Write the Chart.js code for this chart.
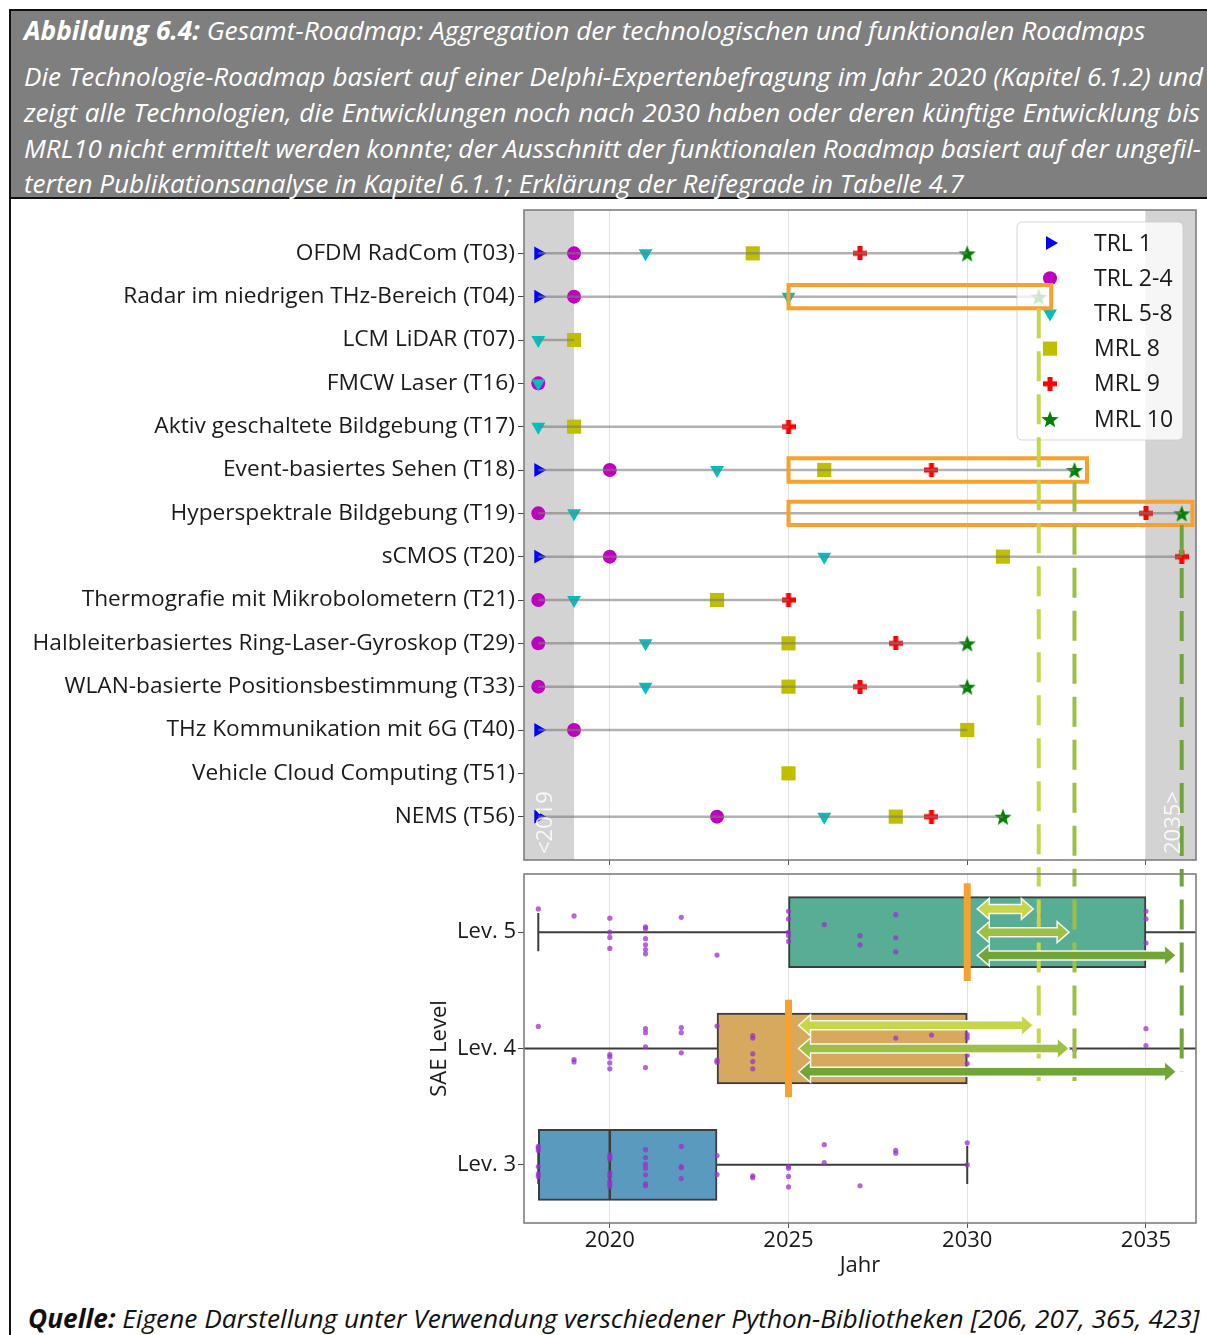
<!DOCTYPE html>
<html lang="de">
<head>
<meta charset="utf-8">
<title>Gesamt-Roadmap</title>
<script src="https://cdn.jsdelivr.net/npm/chart.js@4.4.1/dist/chart.umd.min.js"></script>
<style>
  html, body { margin: 0; padding: 0; background: #ffffff; }
  body { position: relative; width: 1207px; height: 1335px; overflow: hidden; font-family: 'Open Sans', 'Noto Sans', sans-serif; }
  #border { position: absolute; left: 9px; top: 9px; width: 1300px; height: 1400px; border-left: 2px solid #111; border-top: 2px solid #111; }
  #header { position: absolute; left: 11px; top: 11px; width: 1196px; height: 186px; background: #7f7f7f; border-bottom: 2px solid #111; color: #fff; }
  .line { position: absolute; left: 13px; white-space: nowrap; font-style: italic; font-size: 23px; line-height: 30px; }
  .line b, #footer b { font-weight: 700; }
  #footer { position: absolute; left: 28px; top: 1303px; white-space: nowrap; font-style: italic; font-size: 23px; line-height: 30px; color: #111; }
  canvas { position: absolute; }
</style>
</head>
<body>
<div id="border"></div>
<div id="header">
  <div class="line" id="h1" style="top:4px"><b>Abbildung 6.4:</b> Gesamt-Roadmap: Aggregation der technologischen und funktionalen Roadmaps</div>
  <div class="line" id="h2" style="top:50px">Die Technologie-Roadmap basiert auf einer Delphi-Expertenbefragung im Jahr 2020 (Kapitel 6.1.2) und</div>
  <div class="line" id="h3" style="top:86px">zeigt alle Technologien, die Entwicklungen noch nach 2030 haben oder deren künftige Entwicklung bis</div>
  <div class="line" id="h4" style="top:122px">MRL10 nicht ermittelt werden konnte; der Ausschnitt der funktionalen Roadmap basiert auf der ungefil-</div>
  <div class="line" id="h5" style="top:157px">terten Publikationsanalyse in Kapitel 6.1.1; Erklärung der Reifegrade in Tabelle 4.7</div>
</div>
<canvas id="roadmap" width="1195" height="670" style="left:12px;top:200px;width:1195px;height:670px"></canvas>
<canvas id="levels" width="787" height="420" style="left:420px;top:870px;width:787px;height:420px"></canvas>
<div id="footer"><b>Quelle:</b> Eigene Darstellung unter Verwendung verschiedener Python-Bibliotheken [206, 207, 365, 423]</div>

<script>
// ---- data -------------------------------------------------------------
const yearTicks = [2020, 2025, 2030, 2035];
const yearMin = 2017.6;
const yearMax = 2036.4;

const technologies = [
  'OFDM RadCom (T03)',
  'Radar im niedrigen THz-Bereich (T04)',
  'LCM LiDAR (T07)',
  'FMCW Laser (T16)',
  'Aktiv geschaltete Bildgebung (T17)',
  'Event-basiertes Sehen (T18)',
  'Hyperspektrale Bildgebung (T19)',
  'sCMOS (T20)',
  'Thermografie mit Mikrobolometern (T21)',
  'Halbleiterbasiertes Ring-Laser-Gyroskop (T29)',
  'WLAN-basierte Positionsbestimmung (T33)',
  'THz Kommunikation mit 6G (T40)',
  'Vehicle Cloud Computing (T51)',
  'NEMS (T56)'
];

// year reached per technology (2018 = "<2019", 2036 = "2035>")
const trl1  = [2018, 2018, null, null, null, 2018, null, 2018, null, null, null, 2018, null, 2018];
const trl24 = [2019, 2019, null, 2018, null, 2020, 2018, 2020, 2018, 2018, 2018, 2019, null, 2023];
const trl58 = [2021, 2025, 2018, 2018, 2018, 2023, 2019, 2026, 2019, 2021, 2021, null, null, 2026];
const mrl8  = [2024, null, 2019, null, 2019, 2026, null, 2031, 2023, 2025, 2025, 2030, 2025, 2028];
const mrl9  = [2027, null, null, null, 2025, 2029, 2035, 2036, 2025, 2028, 2027, null, null, 2029];
const mrl10 = [2030, 2032, null, null, null, 2033, 2036, null, null, 2030, 2030, null, null, 2031];
const seriesLabels = ['TRL 1', 'TRL 2-4', 'TRL 5-8', 'MRL 8', 'MRL 9', 'MRL 10'];

const shadeSpans = [[yearMin, 2019], [2035, yearMax]];
const shadeLabels = ['<2019', '2035>'];

// highlighted technologies (orange frames) and their target years
const highlightRows = [1, 5, 6];
const highlightFrom = [2025, 2025, 2025];
const highlightTo = [2032.35, 2033.35, 2036.3];
const targetYears = [2032, 2033, 2036];

// SAE levels: box plot of publication years
const levels = ['Lev. 5', 'Lev. 4', 'Lev. 3'];
const boxQ1 = [2025, 2023, 2018];
const boxQ3 = [2035, 2030, 2023];
const boxMedian = [2030, 2025, 2020];
const whiskerLow = [2018, 2017, 2018];
const whiskerHigh = [2037, 2037, 2030];
const highlightedLevels = [0, 1];
const dashEnd = [1.28, 1.28, 1.2];

const lev5Years = [2018, 2019, 2020, 2020, 2020, 2020, 2021, 2021, 2021, 2021, 2021, 2021, 2022, 2023,
  2025, 2025, 2025, 2025, 2025, 2026, 2027, 2027, 2028, 2028, 2028, 2032, 2035, 2035, 2035];
const lev5Jitter = [-0.2, -0.14, -0.12, 0, 0.045, 0.14, -0.045, -0.03, 0.056, 0.108, 0.15, 0.186, -0.128, 0.197,
  -0.18, -0.114, 0, 0.028, 0.08, -0.065, 0.03, 0.11, -0.15, 0.048, 0.17, -0.145, -0.18, -0.114, 0.093];
const lev4Years = [2018, 2019, 2019, 2020, 2020, 2020, 2020, 2021, 2021, 2021, 2021, 2022, 2022, 2022,
  2023, 2023, 2023, 2024, 2024, 2024, 2024, 2024, 2028, 2029, 2030, 2030, 2030, 2030, 2033, 2035, 2035];
const lev4Jitter = [-0.19, 0.095, 0.115, 0.052, 0.072, 0.124, 0.175, -0.17, -0.136, -0.015, 0.164, -0.18, -0.136, 0.037,
  -0.193, 0.1, 0.118, -0.11, -0.09, 0.046, 0.112, 0.175, -0.09, -0.115, -0.12, -0.09, 0.058, 0.13, 0.01, -0.17, -0.026];
const lev3Years = [2018, 2018, 2018, 2018, 2018, 2018, 2020, 2020, 2020, 2020, 2020, 2020, 2020, 2020,
  2021, 2021, 2021, 2021, 2021, 2021, 2021, 2022, 2022, 2022, 2022, 2023, 2023, 2024, 2024,
  2025, 2025, 2025, 2025, 2026, 2026, 2027, 2028, 2028, 2030, 2030];
const lev3Jitter = [-0.158, -0.144, -0.124, 0.015, 0.078, 0.1, -0.086, -0.066, -0.049, 0.072, 0.1, 0.144, 0.164, 0.188,
  -0.13, -0.063, -0.006, 0.029, 0.086, 0.164, 0.18, -0.158, 0.015, 0.026, 0.118, -0.08, 0.084, 0.095, 0.11,
  0.015, 0.029, 0.1, 0.19, -0.173, -0.02, 0.18, -0.124, -0.1, -0.19, 0];

// ---- styles ----------------------------------------------------------
const FONT = "'Open Sans', 'Noto Sans', sans-serif";
const TEXT = '#1a1a1a';
const ORANGE = '#f7a12e';
const TARGET_COLORS = ['#c6d64c', '#9dc044', '#72a438'];
const BOX_COLORS = ['#58ad95', '#d6a95f', '#5a9abf'];
const BOX_EDGE = '#3c3c3c';

Chart.defaults.font.family = FONT;
Chart.defaults.color = TEXT;

function markerCanvas(size, color, shape) {
  const c = document.createElement('canvas');
  c.width = size;
  c.height = size;
  const g = c.getContext('2d');
  g.fillStyle = color;
  if (shape === 'star') {
    const R = size / 2, r = R * 0.42;
    g.beginPath();
    for (let i = 0; i < 10; i++) {
      const a = -Math.PI / 2 + i * Math.PI / 5;
      const rr = i % 2 ? r : R;
      g.lineTo(R + rr * Math.cos(a), R + 1 + rr * Math.sin(a));
    }
    g.closePath();
    g.fill();
  } else {
    const t = Math.round(size * 0.36);
    g.fillRect((size - t) / 2, 0, t, size);
    g.fillRect(0, (size - t) / 2, size, t);
  }
  return c;
}

const markerDefs = [
  { data: trl1, color: '#0000ff', pointStyle: 'triangle', rotation: 90, radius: 8 },
  { data: trl24, color: '#bf00bf', pointStyle: 'circle', rotation: 0, radius: 7 },
  { data: trl58, color: '#00bfbf', pointStyle: 'triangle', rotation: 180, radius: 8 },
  { data: mrl8, color: '#bfbf00', pointStyle: 'rect', rotation: 0, radius: 10 },
  { data: mrl9, color: '#ff0000', pointStyle: markerCanvas(14, '#ff0000', 'plus'), rotation: 0, radius: 7 },
  { data: mrl10, color: '#008000', pointStyle: markerCanvas(18, '#008000', 'star'), rotation: 0, radius: 9 }
];

// axis boxes keep the exact size we give them (no extra label padding)
function fixSize(prop, value) {
  return (s) => {
    s[prop] = value;
    s.paddingTop = 0;
    s.paddingBottom = 0;
    s.paddingLeft = 0;
    s.paddingRight = 0;
  };
}

// ---- top chart: technology roadmap ------------------------------------
const roadmapSets = [];

markerDefs.forEach((m, k) => {
  roadmapSets.push({
    label: seriesLabels[k],
    data: m.data.map((v, i) => (v === null ? null : { x: v, y: i })).filter(Boolean),
    backgroundColor: m.color,
    borderColor: m.color,
    borderWidth: 0,
    pointStyle: m.pointStyle,
    rotation: m.rotation,
    pointRadius: m.radius,
    order: 20 - k
  });
});

technologies.forEach((name, i) => {
  const years = markerDefs.map((m) => m.data[i]).filter((v) => v !== null);
  if (years.length < 2) return;
  roadmapSets.push({
    showLine: true,
    data: [{ x: Math.min(...years), y: i }, { x: Math.max(...years), y: i }],
    borderColor: 'rgba(125,125,125,0.6)',
    borderWidth: 2.5,
    pointRadius: 0,
    order: 5
  });
});

highlightRows.forEach((row, k) => {
  const x0 = highlightFrom[k], x1 = highlightTo[k];
  roadmapSets.push({
    showLine: true,
    overlay: true,
    data: [
      { x: x0, y: row - 0.27 }, { x: x1, y: row - 0.27 },
      { x: x1, y: row + 0.27 }, { x: x0, y: row + 0.27 }, { x: x0, y: row - 0.27 }
    ],
    borderColor: ORANGE,
    borderWidth: 4,
    borderJoinStyle: 'miter',
    borderCapStyle: 'square',
    pointRadius: 0,
    clip: false,
    order: 1
  });
  roadmapSets.push({
    showLine: true,
    overlay: true,
    data: [{ x: targetYears[k], y: row + 0.27 }, { x: targetYears[k], y: 14.6 }],
    borderColor: TARGET_COLORS[k],
    borderWidth: 4,
    borderDash: [30, 13],
    pointRadius: 0,
    clip: false,
    order: 0
  });
});

function drawLegend(chart) {
  const { ctx, chartArea: a } = chart;
  const w = 166, h = 218;
  const left = a.right - 13 - w, top = a.top + 12;
  ctx.save();
  ctx.beginPath();
  if (ctx.roundRect) ctx.roundRect(left, top, w, h, 5); else ctx.rect(left, top, w, h);
  ctx.fillStyle = 'rgba(255,255,255,0.8)';
  ctx.fill();
  ctx.strokeStyle = 'rgba(204,204,204,0.8)';
  ctx.lineWidth = 1;
  ctx.stroke();
  ctx.font = `23px ${FONT}`;
  ctx.textBaseline = 'middle';
  markerDefs.forEach((m, i) => {
    const y = top + 21 + i * 35.2;
    ctx.fillStyle = m.color;
    ctx.strokeStyle = m.color;
    Chart.helpers.drawPoint(ctx, { pointStyle: m.pointStyle, rotation: m.rotation, radius: m.radius, borderWidth: 0 }, left + 33, y);
    ctx.fillStyle = TEXT;
    ctx.fillText(seriesLabels[i], left + 77, y + 1);
  });
  ctx.restore();
}

function drawFrame(chart) {
  const { ctx, chartArea: a } = chart;
  ctx.save();
  ctx.strokeStyle = '#7f7f7f';
  ctx.lineWidth = 1.6;
  ctx.strokeRect(a.left, a.top, a.right - a.left, a.bottom - a.top);
  ctx.restore();
}

const roadmapDecor = {
  id: 'roadmapDecor',
  beforeDraw(chart) {
    const { ctx, chartArea: a, scales: { x } } = chart;
    ctx.save();
    ctx.fillStyle = '#d3d3d3';
    shadeSpans.forEach(([s, e]) => {
      const x0 = Math.max(a.left, x.getPixelForValue(s));
      const x1 = Math.min(a.right, x.getPixelForValue(e));
      ctx.fillRect(x0, a.top, x1 - x0, a.bottom - a.top);
    });
    ctx.restore();
  },
  beforeDatasetsDraw(chart) {
    chart.$legendDone = false;
  },
  beforeDatasetDraw(chart, args) {
    if (!chart.$legendDone && chart.data.datasets[args.index].overlay) {
      drawLegend(chart);
      chart.$legendDone = true;
    }
  },
  afterDatasetsDraw(chart) {
    if (!chart.$legendDone) drawLegend(chart);
    const { ctx, chartArea: a, scales: { x } } = chart;
    ctx.save();
    ctx.font = `22px ${FONT}`;
    ctx.fillStyle = 'rgba(255,255,255,0.85)';
    ctx.textBaseline = 'middle';
    ctx.textAlign = 'left';
    shadeSpans.forEach(([s, e], k) => {
      const cx = (Math.max(a.left, x.getPixelForValue(s)) + Math.min(a.right, x.getPixelForValue(e))) / 2;
      ctx.save();
      ctx.translate(cx + (k === 0 ? -3 : 3), a.bottom - 6);
      ctx.rotate(-Math.PI / 2);
      ctx.fillText(shadeLabels[k], 0, 0);
      ctx.restore();
    });
    ctx.restore();
  },
  afterDraw: drawFrame
};

new Chart(document.getElementById('roadmap'), {
  type: 'scatter',
  data: { datasets: roadmapSets },
  options: {
    responsive: false,
    animation: false,
    devicePixelRatio: 1,
    events: [],
    layout: { padding: { top: 8, right: 11, bottom: 0, left: 0 } },
    plugins: { legend: { display: false }, tooltip: { enabled: false } },
    scales: {
      x: {
        type: 'linear',
        min: yearMin,
        max: yearMax,
        afterBuildTicks: (s) => { s.ticks = yearTicks.map((v) => ({ value: v })); },
        afterFit: fixSize('height', 8),
        ticks: { display: false },
        border: { display: false },
        grid: { color: '#e2e2e2', lineWidth: 1, drawTicks: true, tickLength: 5, tickColor: '#555' }
      },
      y: {
        type: 'linear',
        reverse: true,
        min: -1,
        max: technologies.length,
        afterBuildTicks: (s) => { s.ticks = technologies.map((_, i) => ({ value: i })); },
        afterFit: fixSize('width', 512),
        ticks: {
          autoSkip: false,
          padding: 3,
          color: TEXT,
          font: { size: 22.7 },
          callback: (v) => technologies[v]
        },
        border: { display: false },
        grid: { drawOnChartArea: false, drawTicks: true, tickLength: 6, tickColor: '#444' }
      }
    }
  },
  plugins: [roadmapDecor]
});

// ---- bottom chart: SAE levels -----------------------------------------
const levelSets = [];
const pointSeries = [[lev5Years, lev5Jitter], [lev4Years, lev4Jitter], [lev3Years, lev3Jitter]];

levels.forEach((name, i) => {
  levelSets.push({
    showLine: true,
    data: [{ x: whiskerLow[i], y: i }, { x: whiskerHigh[i], y: i }],
    borderColor: BOX_EDGE, borderWidth: 2, pointRadius: 0, order: 10
  });
  [whiskerLow[i], whiskerHigh[i]].forEach((v) => {
    levelSets.push({
      showLine: true,
      data: [{ x: v, y: i - 0.165 }, { x: v, y: i + 0.165 }],
      borderColor: BOX_EDGE, borderWidth: 2, pointRadius: 0, order: 10
    });
  });
  levelSets.push({
    showLine: true,
    data: [{ x: boxMedian[i], y: i - 0.3 }, { x: boxMedian[i], y: i + 0.3 }],
    borderColor: BOX_EDGE, borderWidth: 2.5, pointRadius: 0, order: 8
  });
  const [yrs, jit] = pointSeries[i];
  levelSets.push({
    data: yrs.map((v, k) => ({ x: v, y: i + jit[k] })),
    backgroundColor: 'rgba(153,50,204,0.75)',
    borderWidth: 0,
    pointRadius: 2.6,
    order: 7
  });
});

levelSets.push({
  type: 'bar',
  indexAxis: 'y',
  data: levels.map((_, i) => ({ x: [boxQ1[i], boxQ3[i]], y: i })),
  backgroundColor: BOX_COLORS,
  borderColor: BOX_EDGE,
  borderWidth: 2,
  borderSkipped: false,
  barThickness: 71,
  order: 9
});

highlightedLevels.forEach((i) => {
  levelSets.push({
    showLine: true,
    data: [{ x: boxMedian[i], y: i - 0.42 }, { x: boxMedian[i], y: i + 0.42 }],
    borderColor: ORANGE, borderWidth: 7, pointRadius: 0, order: 6
  });
});

targetYears.forEach((yr, k) => {
  levelSets.push({
    showLine: true,
    data: [{ x: yr, y: -0.65 }, { x: yr, y: dashEnd[k] }],
    borderColor: TARGET_COLORS[k], borderWidth: 4, borderDash: [30, 13],
    pointRadius: 0, clip: false, order: 5
  });
});

function drawArrow(ctx, x0, x1, y, color) {
  const shaft = 9, head = 21, hl = 12;
  ctx.beginPath();
  ctx.moveTo(x0, y);
  ctx.lineTo(x0 + hl, y - head / 2);
  ctx.lineTo(x0 + hl, y - shaft / 2);
  ctx.lineTo(x1 - hl, y - shaft / 2);
  ctx.lineTo(x1 - hl, y - head / 2);
  ctx.lineTo(x1, y);
  ctx.lineTo(x1 - hl, y + head / 2);
  ctx.lineTo(x1 - hl, y + shaft / 2);
  ctx.lineTo(x0 + hl, y + shaft / 2);
  ctx.lineTo(x0 + hl, y + head / 2);
  ctx.closePath();
  ctx.fillStyle = color;
  ctx.fill();
  ctx.strokeStyle = 'rgba(255,255,255,0.9)';
  ctx.lineWidth = 1.5;
  ctx.stroke();
}

const levelDecor = {
  id: 'levelDecor',
  afterDatasetsDraw(chart) {
    const { ctx, scales: { x, y } } = chart;
    ctx.save();
    ctx.lineJoin = 'miter';
    highlightedLevels.forEach((i) => {
      targetYears.forEach((yr, k) => {
        drawArrow(ctx,
          x.getPixelForValue(boxMedian[i] + 0.28),
          x.getPixelForValue(yr - 0.15),
          y.getPixelForValue(i + (k - 1) * 0.2),
          TARGET_COLORS[k]);
      });
    });
    ctx.restore();
  },
  afterDraw: drawFrame
};

new Chart(document.getElementById('levels'), {
  type: 'scatter',
  data: { datasets: levelSets },
  options: {
    responsive: false,
    animation: false,
    devicePixelRatio: 1,
    events: [],
    layout: { padding: { top: 4, right: 11, bottom: 11, left: 0 } },
    plugins: { legend: { display: false }, tooltip: { enabled: false } },
    scales: {
      x: {
        type: 'linear',
        min: yearMin,
        max: yearMax,
        afterBuildTicks: (s) => { s.ticks = yearTicks.map((v) => ({ value: v })); },
        afterFit: fixSize('height', 56),
        ticks: { padding: 0, color: TEXT, font: { size: 22 }, callback: (v) => String(v) },
        border: { display: false },
        grid: { color: '#e2e2e2', lineWidth: 1, drawTicks: true, tickLength: 5, tickColor: '#555' },
        title: { display: true, text: 'Jahr', color: TEXT, font: { size: 22 }, padding: { top: 0, bottom: 0 } }
      },
      y: {
        type: 'linear',
        reverse: true,
        offset: false,
        min: -0.5,
        max: levels.length - 0.5,
        afterBuildTicks: (s) => { s.ticks = levels.map((_, i) => ({ value: i })); },
        afterFit: fixSize('width', 104),
        ticks: { autoSkip: false, padding: 2, color: TEXT, font: { size: 22 }, callback: (v) => levels[v] },
        border: { display: false },
        grid: { offset: false, drawOnChartArea: false, drawTicks: true, tickLength: 6, tickColor: '#444' },
        title: { display: true, text: 'SAE Level', color: TEXT, font: { size: 22 }, padding: { top: 7, bottom: 0 } }
      }
    }
  },
  plugins: [levelDecor]
});

// ---- caption text: size and justify lines like the original -------------
function naturalWidth(el) {
  el.style.wordSpacing = '0px';
  el.style.letterSpacing = '0px';
  return el.getBoundingClientRect().width;
}
function fitFont(id, target) {
  const el = document.getElementById(id);
  const base = parseFloat(getComputedStyle(el).fontSize);
  const size = base * target / naturalWidth(el);
  el.style.fontSize = size + 'px';
  return size;
}
function justify(id, size, target) {
  const el = document.getElementById(id);
  el.style.fontSize = size + 'px';
  const spaces = (el.textContent.match(/ /g) || []).length;
  el.style.wordSpacing = ((target - naturalWidth(el)) / spaces) + 'px';
}
fitFont('h1', 1122);
const bodySize = fitFont('h5', 940);
justify('h2', bodySize, 1179);
justify('h3', bodySize, 1176);
justify('h4', bodySize, 1177);
fitFont('footer', 1172);
</script>
</body>
</html>
